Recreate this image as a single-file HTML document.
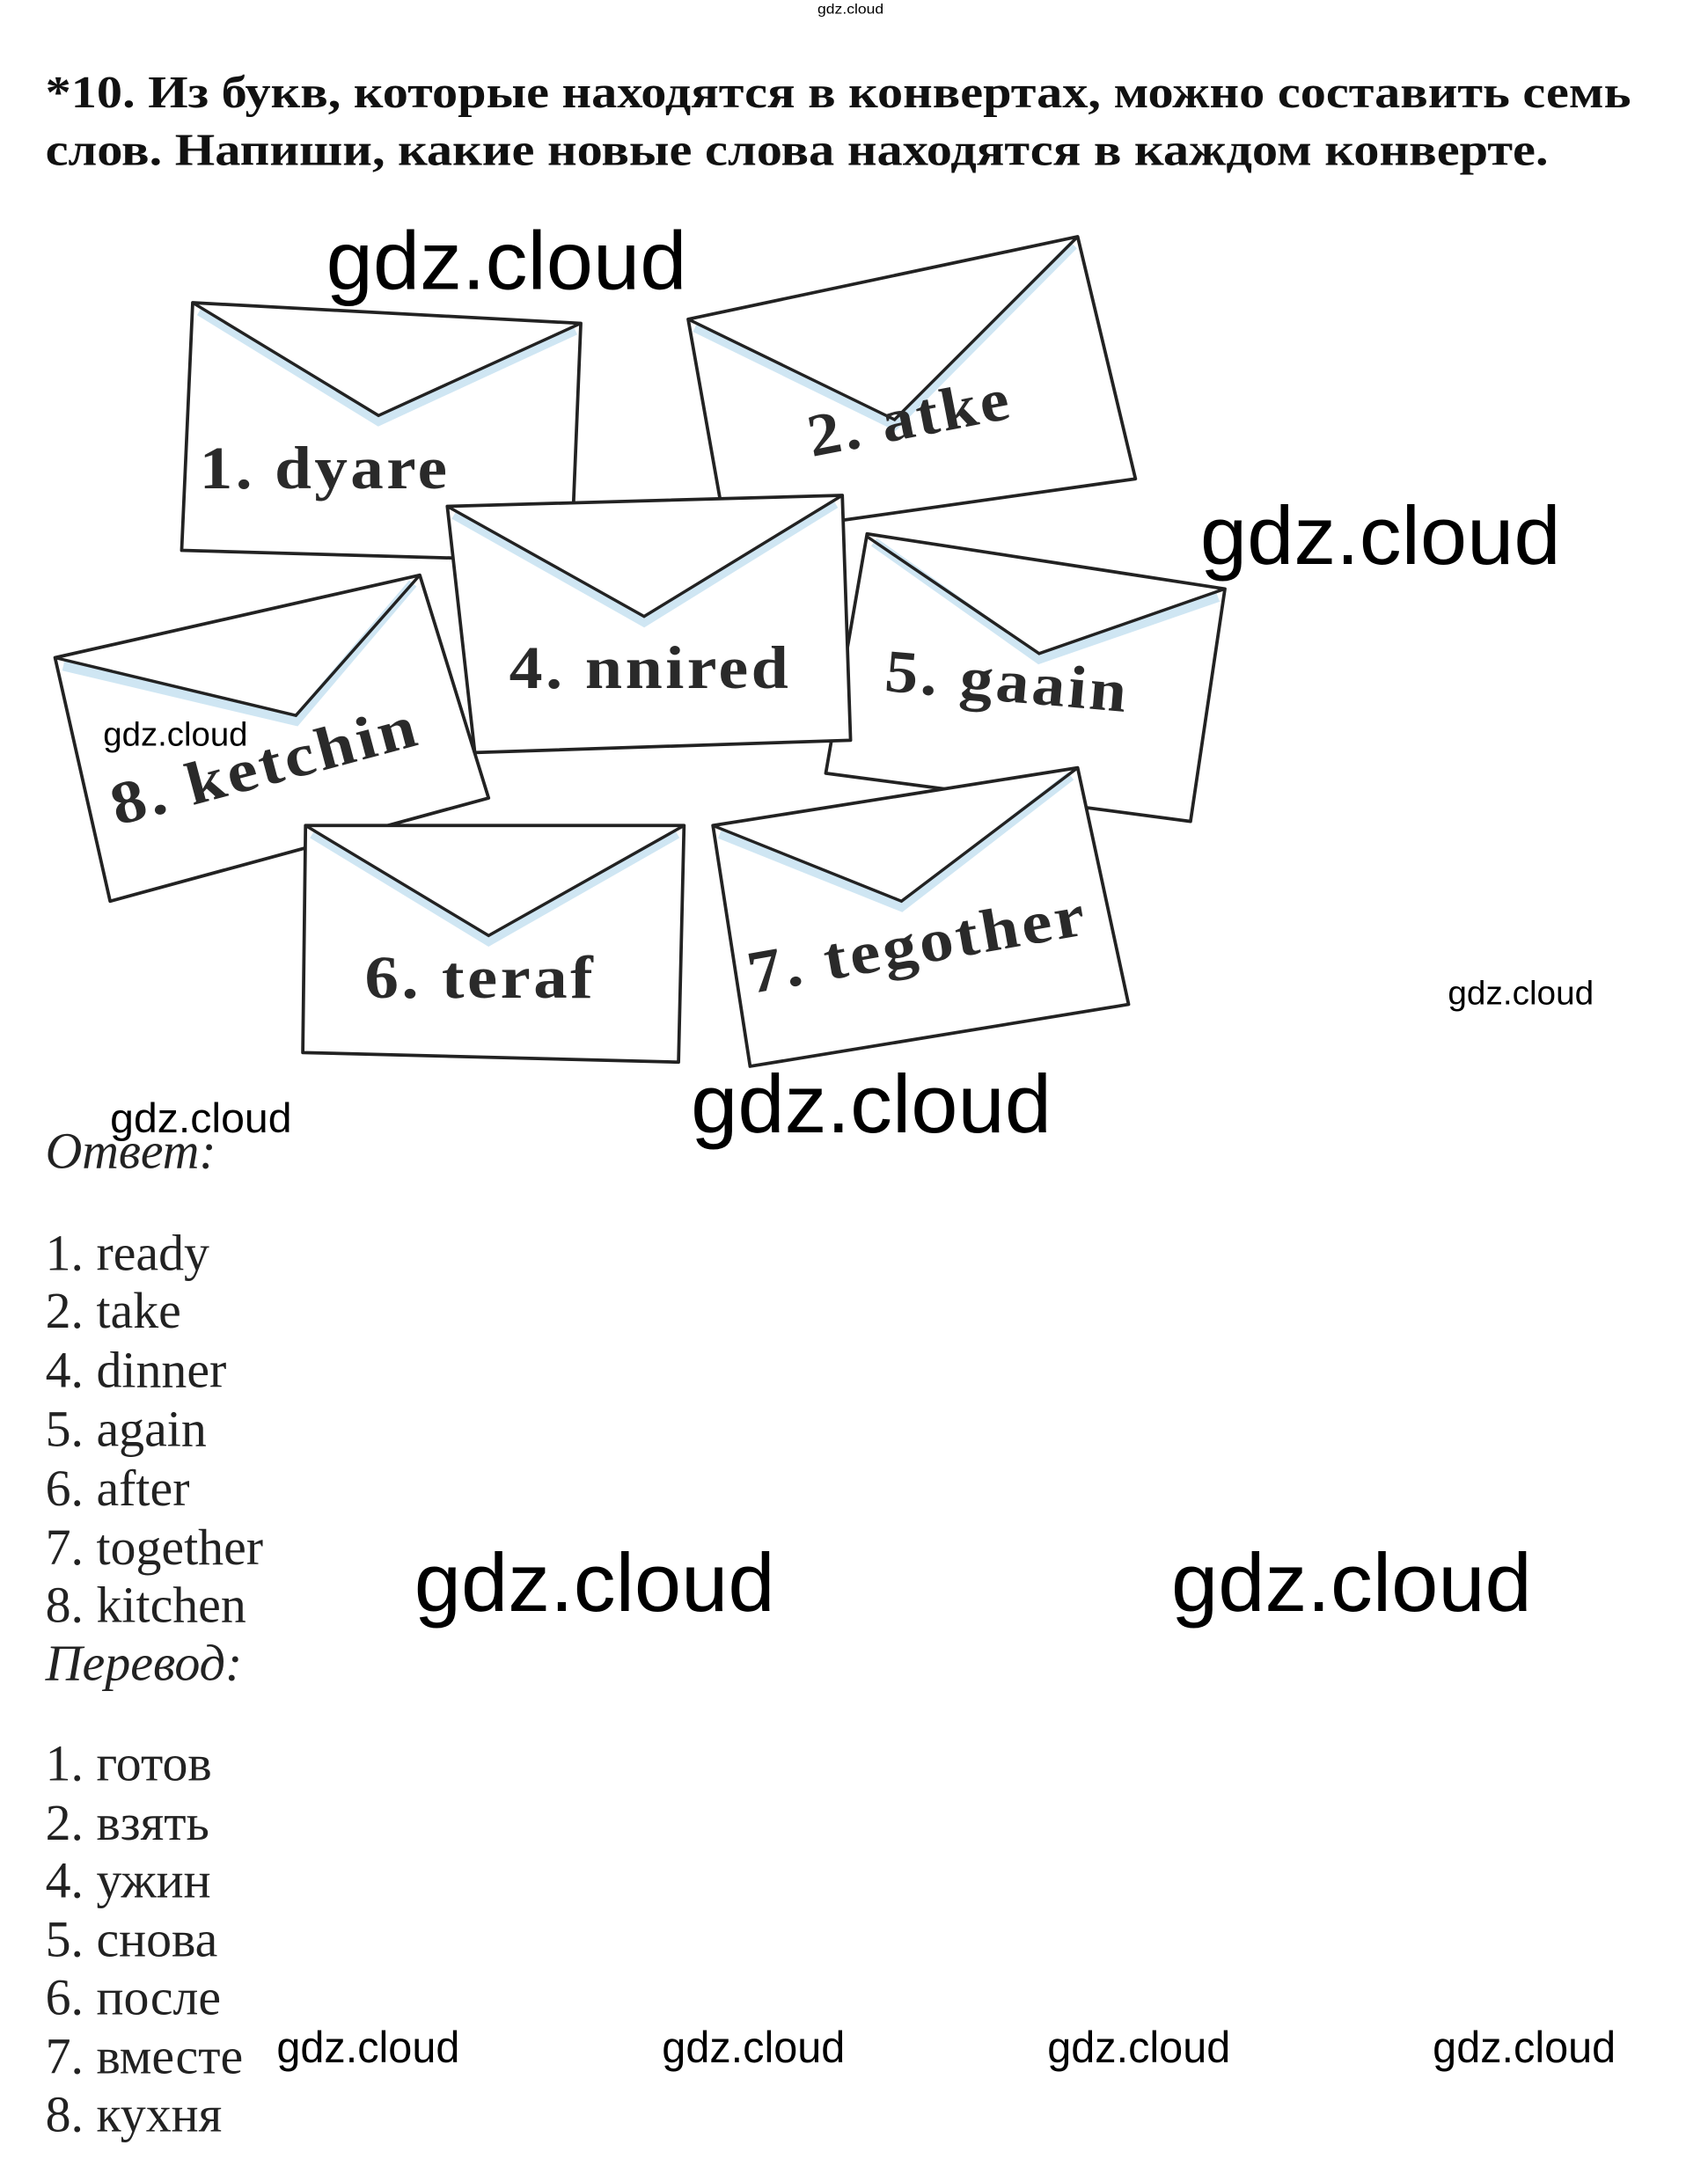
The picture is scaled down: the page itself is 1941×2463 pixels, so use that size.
<!DOCTYPE html>
<html><head><meta charset="utf-8"><style>
html,body{margin:0;padding:0;background:#fff;width:1941px;height:2463px;overflow:hidden}
svg{display:block}
.s{font-family:"Liberation Serif","DejaVu Serif",serif}
.w{font-family:"Liberation Sans","DejaVu Sans",sans-serif;fill:#000}
.env{fill:#fff;stroke:#222;stroke-width:2.4;stroke-linejoin:round}
.fl{fill:none;stroke:#222;stroke-width:2.2}
.gl{fill:none;stroke:#cfe6f3;stroke-width:7}
.et{font-family:"Liberation Serif","DejaVu Serif",serif;font-weight:bold;font-size:44px;fill:#2a2a2a;letter-spacing:2px}
.a{font-family:"Liberation Serif","DejaVu Serif",serif;font-size:37px;fill:#222}
</style></head><body>
<svg width="1941" height="2463" viewBox="0 0 1241 1575" preserveAspectRatio="none">
<text x="594" y="10" font-size="10" fill="#6a6acc" class="w" textLength="48" lengthAdjust="spacingAndGlyphs">gdz.cloud</text>
<text x="33" y="78" class="s" font-weight="bold" font-size="33" fill="#111" textLength="1152" lengthAdjust="spacingAndGlyphs">*10. Из букв, которые находятся в конвертах, можно составить семь</text>
<text x="33" y="120" class="s" font-weight="bold" font-size="33" fill="#111" textLength="1092" lengthAdjust="spacingAndGlyphs">слов. Напиши, какие новые слова находятся в каждом конверте.</text>

<polygon class="env" points="140,220 422,235 415,408 132,400"/>
<polyline class="gl" points="145,226 275,306 418,240"/>
<polyline class="fl" points="140,220 275,302 422,235"/>
<text class="et" x="145" y="355" textLength="182" lengthAdjust="spacingAndGlyphs">1. dyare</text>

<polygon class="env" points="500,232 783,172 825,348 528,390"/>
<polyline class="gl" points="505,238 650,309 780,178"/>
<polyline class="fl" points="500,232 650,305 783,172"/>
<text class="et" transform="translate(590,332) rotate(-11)" x="0" y="0" textLength="150" lengthAdjust="spacingAndGlyphs">2. atke</text>

<polygon class="env" points="40,478 305,418 355,580 80,655"/>
<polyline class="gl" points="46,484 215,524 300,424"/>
<polyline class="fl" points="40,478 215,520 305,418"/>
<text class="et" transform="translate(85,600) rotate(-15)" x="0" y="0" textLength="230" lengthAdjust="spacingAndGlyphs">8. ketchin</text>

<polygon class="env" points="630,388 890,428 865,597 600,562"/>
<polyline class="gl" points="635,394 755,479 885,434"/>
<polyline class="fl" points="630,390 755,475 890,428"/>
<text class="et" transform="translate(642,502) rotate(5)" x="0" y="0" textLength="178" lengthAdjust="spacingAndGlyphs">5. gaain</text>

<polygon class="env" points="325,368 612,360 618,538 345,547"/>
<polyline class="gl" points="330,374 468,452 607,366"/>
<polyline class="fl" points="325,368 468,448 612,360"/>
<text class="et" x="370" y="500" textLength="205" lengthAdjust="spacingAndGlyphs">4. nnired</text>

<polygon class="env" points="222,600 497,600 493,772 220,765"/>
<polyline class="gl" points="227,606 355,684 492,606"/>
<polyline class="fl" points="222,600 355,680 497,600"/>
<text class="et" x="265" y="725" textLength="168" lengthAdjust="spacingAndGlyphs">6. teraf</text>

<polygon class="env" points="518,600 783,558 820,730 545,775"/>
<polyline class="gl" points="523,606 655,659 778,564"/>
<polyline class="fl" points="518,600 655,655 783,558"/>
<text class="et" transform="translate(546,722) rotate(-10)" x="0" y="0" textLength="250" lengthAdjust="spacingAndGlyphs">7. tegother</text>

<text class="w" x="237" y="210" font-size="60" textLength="262" lengthAdjust="spacingAndGlyphs">gdz.cloud</text>
<text class="w" x="872" y="410" font-size="60" textLength="262" lengthAdjust="spacingAndGlyphs">gdz.cloud</text>
<text class="w" x="75" y="542" font-size="24" textLength="105" lengthAdjust="spacingAndGlyphs">gdz.cloud</text>
<text class="w" x="1052" y="730" font-size="24" textLength="106" lengthAdjust="spacingAndGlyphs">gdz.cloud</text>
<text class="w" x="80" y="823" font-size="30" textLength="132" lengthAdjust="spacingAndGlyphs">gdz.cloud</text>
<text class="w" x="502" y="823" font-size="60" textLength="262" lengthAdjust="spacingAndGlyphs">gdz.cloud</text>
<text class="w" x="301" y="1171" font-size="60" textLength="262" lengthAdjust="spacingAndGlyphs">gdz.cloud</text>
<text class="w" x="851" y="1171" font-size="60" textLength="262" lengthAdjust="spacingAndGlyphs">gdz.cloud</text>
<text class="w" x="201" y="1499" font-size="32" textLength="133" lengthAdjust="spacingAndGlyphs">gdz.cloud</text>
<text class="w" x="481" y="1499" font-size="32" textLength="133" lengthAdjust="spacingAndGlyphs">gdz.cloud</text>
<text class="w" x="761" y="1499" font-size="32" textLength="133" lengthAdjust="spacingAndGlyphs">gdz.cloud</text>
<text class="w" x="1041" y="1499" font-size="32" textLength="133" lengthAdjust="spacingAndGlyphs">gdz.cloud</text>

<text class="a" x="33" y="849" font-style="italic" fill="#444" textLength="124" lengthAdjust="spacingAndGlyphs">Ответ:</text>
<text class="a" x="33" y="923">1. ready</text>
<text class="a" x="33" y="965">2. take</text>
<text class="a" x="33" y="1008">4. dinner</text>
<text class="a" x="33" y="1051">5. again</text>
<text class="a" x="33" y="1094">6. after</text>
<text class="a" x="33" y="1137">7. together</text>
<text class="a" x="33" y="1179">8. kitchen</text>
<text class="a" x="33" y="1221" font-style="italic" fill="#444" textLength="143" lengthAdjust="spacingAndGlyphs">Перевод:</text>
<text class="a" x="33" y="1294">1. готов</text>
<text class="a" x="33" y="1337">2. взять</text>
<text class="a" x="33" y="1379">4. ужин</text>
<text class="a" x="33" y="1422">5. снова</text>
<text class="a" x="33" y="1464">6. после</text>
<text class="a" x="33" y="1507">7. вместе</text>
<text class="a" x="33" y="1549">8. кухня</text>
</svg>
</body></html>
